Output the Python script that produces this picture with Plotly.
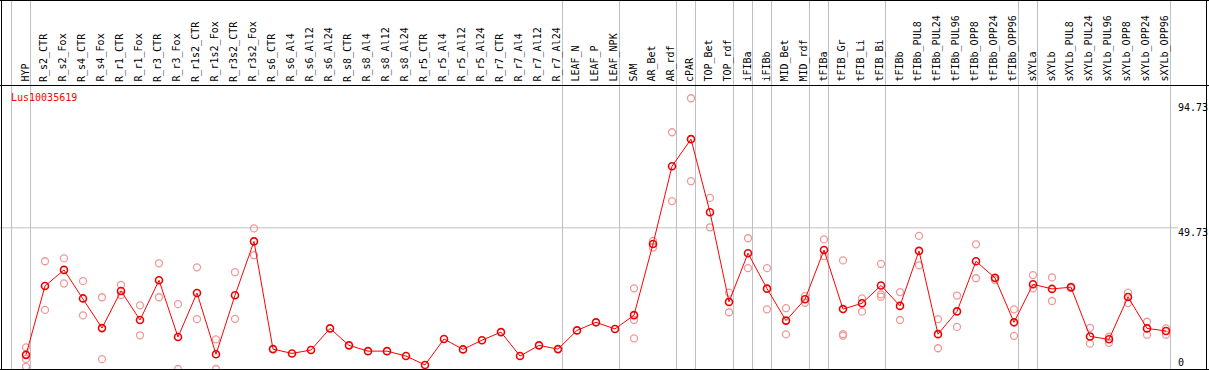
import plotly.graph_objects as go

categories = ["HYP", "R_s2_CTR", "R_s2_Fox", "R_s4_CTR", "R_s4_Fox", "R_r1_CTR", "R_r1_Fox",
              "R_r3_CTR", "R_r3_Fox", "R_r1s2_CTR", "R_r1s2_Fox", "R_r3s2_CTR", "R_r3s2_Fox",
              "R_s6_CTR", "R_s6_Al4", "R_s6_Al12", "R_s6_Al24", "R_s8_CTR", "R_s8_Al4", "R_s8_Al12",
              "R_s8_Al24", "R_r5_CTR", "R_r5_Al4", "R_r5_Al12", "R_r5_Al24", "R_r7_CTR", "R_r7_Al4",
              "R_r7_Al12", "R_r7_Al24", "LEAF_N", "LEAF_P", "LEAF_NPK", "SAM", "AR_Bet", "AR_rdf",
              "cPAR", "TOP_Bet", "TOP_rdf", "iFIBa", "iFIBb", "MID_Bet", "MID_rdf", "tFIBa",
              "tFIB_Gr", "tFIB_Li", "tFIB_Bi", "tFIBb", "tFIBb_PUL8", "tFIBb_PUL24", "tFIBb_PUL96",
              "tFIBb_OPP8", "tFIBb_OPP24", "tFIBb_OPP96", "sXYLa", "sXYLb", "sXYLb_PUL8",
              "sXYLb_PUL24", "sXYLb_PUL96", "sXYLb_OPP8", "sXYLb_OPP24", "sXYLb_OPP96"]

means = [5.6, 29.5, 35.1, 25.2, 14.9, 27.8, 17.7, 31.5, 11.8, 27.1, 5.8, 26.3, 45.0,
         7.6, 6.1, 7.3, 14.8, 8.9, 6.9, 6.9, 5.2, 2.1, 11.1, 7.5, 10.7, 13.5, 5.2, 8.9, 7.6,
         14.1, 16.9, 14.6, 19.4, 44.1, 71.1, 80.5, 55.1, 24.0, 40.9, 28.6, 17.5, 24.9, 42.0,
         21.5, 23.5, 29.7, 22.6, 41.7, 12.8, 20.7, 38.1, 32.3, 16.9, 30.1, 28.5, 29.1,
         12.0, 11.0, 25.7, 14.8, 13.9]

replicates = [[8.2, 4.2, 1.5], [38.1, 21.2], [39.1, 30.4], [31.2, 19.3], [25.6, 4.1],
              [29.9, 26.4], [22.8, 12.4], [37.4, 25.6], [23.2, 0.7], [36.0, 18.0],
              [11.0, 0.7], [34.3, 18.1], [49.5, 40.2],
              [], [], [], [], [], [], [], [], [], [], [], [], [], [], [], [],
              [], [], [], [28.7, 17.7, 11.3], [45.2, 42.9], [82.9, 59.0], [94.7, 65.9],
              [60.1, 49.9], [27.2, 20.4], [46.1, 35.7], [35.7, 21.4], [21.8, 12.7],
              [26.0, 23.7], [45.7, 39.9], [38.4, 12.8, 12.3], [25.2, 20.6],
              [37.2, 26.6, 25.8], [27.4, 17.7], [46.9, 36.7], [18.0, 7.9], [26.2, 15.3],
              [44.0, 32.2], [32.5, 31.6], [21.4, 12.2], [33.3, 28.7], [32.5, 24.3],
              [29.3, 28.8], [15.0, 9.5], [11.9, 9.8], [27.2, 23.6], [17.1, 12.6],
              [14.8, 12.6]]

y_ticks = [0, 49.73, 94.73]
y_tick_text = ["0", "49.73", "94.73"]
group_breaks = [-1, 0, 28, 31, 34, 35, 37, 38, 39, 41, 42, 45, 52, 53, 60]
gene = "Lus10035619"

W, H = 1209, 370
X0, STEP = 26.0, 19.0          # pixel of first column and column spacing
PLOT_TOP, PLOT_BOT = 85, 369   # pixel rows of plot area
PXU = 2.88                     # pixels per unit
Y_ZERO = 371.0                 # pixel row of value 0


def px_to_paper_y(py):
    return (H - py) / H


def px_to_paper_x(px):
    return px / W


rx, ry = [], []
for c, reps in zip(categories, replicates):
    for v in reps:
        rx.append(c)
        ry.append(v)

fig = go.Figure()
fig.add_trace(go.Scatter(
    x=rx, y=ry, mode="markers",
    marker=dict(symbol="circle-open", size=7, color="#f09898", line=dict(width=1.3, color="#f09898")),
    hoverinfo="skip", showlegend=False, cliponaxis=True))
fig.add_trace(go.Scatter(
    x=categories, y=means, mode="lines+markers",
    line=dict(color="#ff0000", width=1),
    marker=dict(symbol="circle-open", size=7, color="#ee0000", line=dict(width=1.6, color="#ee0000")),
    showlegend=False, cliponaxis=True))

shapes = []
grey = "#c0c0c0"
for b in group_breaks:
    shapes.append(dict(type="line", xref="x", yref="paper", x0=b + 4.5 / STEP, x1=b + 4.5 / STEP,
                       y0=px_to_paper_y(PLOT_BOT), y1=1, line=dict(color=grey, width=1), layer="below"))
shapes.append(dict(type="line", xref="paper", yref="y", x0=0, x1=px_to_paper_x(1178),
                   y0=y_ticks[1], y1=y_ticks[1], line=dict(color=grey, width=1), layer="below"))
black = "#000000"
for py in [0.5, PLOT_TOP + 0.5, PLOT_BOT + 0.5]:
    shapes.append(dict(type="line", xref="paper", yref="paper", x0=0, x1=1,
                       y0=px_to_paper_y(py), y1=px_to_paper_y(py), line=dict(color=black, width=1)))
for pxx in [1.5, 1206.5]:
    shapes.append(dict(type="line", xref="paper", yref="paper", x0=px_to_paper_x(pxx), x1=px_to_paper_x(pxx),
                       y0=px_to_paper_y(PLOT_BOT + 1), y1=1, line=dict(color=black, width=1)))

mono = "DejaVu Sans Mono"
annotations = [dict(text=gene, xref="paper", yref="paper", x=px_to_paper_x(9), y=px_to_paper_y(97),
                    xanchor="left", yanchor="middle", showarrow=False,
                    font=dict(family=mono, size=10, color="#ff0000"))]
tick_shift = [9, -5, -9]
for t, lab, s in zip(y_ticks, y_tick_text, tick_shift):
    annotations.append(dict(text=lab, xref="paper", yref="paper", x=px_to_paper_x(1176),
                            y=px_to_paper_y(Y_ZERO - PXU * t),
                            yshift=s, xanchor="left", yanchor="middle", showarrow=False,
                            font=dict(family=mono, size=10, color=black)))
for c in categories:
    annotations.append(dict(text=c, xref="x", yref="paper", x=c, xshift=-1.5,
                            y=px_to_paper_y(PLOT_TOP - 1), textangle=-90,
                            xanchor="center", yanchor="bottom", showarrow=False,
                            font=dict(family=mono, size=10, color=black)))

fig.update_layout(
    width=W, height=H, margin=dict(l=0, r=0, t=0, b=0),
    paper_bgcolor="white", plot_bgcolor="white",
    xaxis=dict(type="category", categoryorder="array", categoryarray=categories,
               range=[(0 - X0) / STEP, (W - X0) / STEP], domain=[0, 1],
               showgrid=False, zeroline=False, showticklabels=False, showline=False),
    yaxis=dict(range=[(Y_ZERO - PLOT_BOT) / PXU, (Y_ZERO - PLOT_TOP) / PXU],
               domain=[px_to_paper_y(PLOT_BOT), px_to_paper_y(PLOT_TOP)],
               showgrid=False, zeroline=False, showticklabels=False, showline=False),
    shapes=shapes, annotations=annotations, showlegend=False,
)
fig.write_html("out.html", config={"displayModeBar": False},
               post_script="document.body.style.margin='0px';document.body.style.overflow='hidden';")
